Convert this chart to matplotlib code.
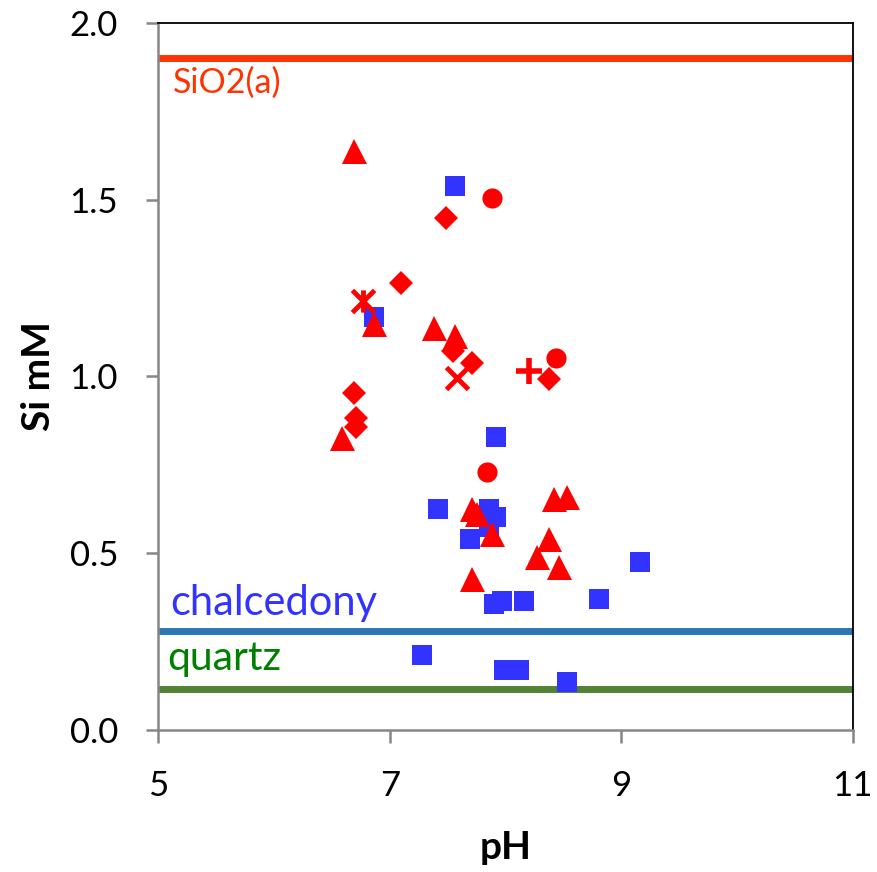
import matplotlib.pyplot as plt
import numpy as np
from matplotlib.path import Path

plt.rcParams['font.family'] = ['Lato', 'DejaVu Sans']

# saturation lines (Si mM)
sio2_level = 1.90
chalcedony_level = 0.28
quartz_level = 0.117

# blue squares
sq_ph = [7.56, 6.86, 7.92, 7.42, 7.86, 7.92, 7.86, 7.69,
         7.90, 7.97, 8.16, 8.81, 9.16, 7.28, 7.99, 8.12, 8.53]
sq_si = [1.538, 1.168, 0.828, 0.625, 0.624, 0.603, 0.575, 0.540,
         0.356, 0.365, 0.365, 0.370, 0.475, 0.212, 0.170, 0.170, 0.136]

# red triangles
tri_ph = [6.69, 6.86, 7.38, 7.56, 6.59, 7.71, 7.75, 7.88,
          8.42, 8.53, 8.38, 8.27, 8.46, 7.71]
tri_si = [1.638, 1.148, 1.137, 1.114, 0.825, 0.625, 0.610, 0.554,
          0.653, 0.660, 0.540, 0.490, 0.461, 0.427]

# red diamonds
dia_ph = [7.49, 7.10, 7.55, 7.71, 8.38, 6.69, 6.71, 6.71]
dia_si = [1.448, 1.264, 1.073, 1.037, 0.993, 0.953, 0.881, 0.858]

# red circles
cir_ph = [7.88, 8.44, 7.84]
cir_si = [1.503, 1.051, 0.730]

# red star, x and plus
star_ph = [6.77]
star_si = [1.213]
x_ph = [7.58]
x_si = [0.994]
plus_ph = [8.20]
plus_si = [1.014]

xticks = [5, 7, 9, 11]
yticks = [0.0, 0.5, 1.0, 1.5, 2.0]

red = '#FF0000'
blue = '#3333FF'

star = Path([(-0.5, -0.5), (0.5, 0.5), (-0.5, 0.5), (0.5, -0.5), (0, -0.5), (0, 0.5)],
            [Path.MOVETO, Path.LINETO, Path.MOVETO, Path.LINETO, Path.MOVETO, Path.LINETO])

fig = plt.figure(figsize=(8.77, 8.72), dpi=100)
ax = fig.add_axes([0.1805, 0.1628, 0.7918, 0.8112])

ax.axhline(sio2_level, color='#FF3300', lw=5, zorder=1)
ax.axhline(chalcedony_level, color='#2E75B6', lw=5, zorder=1)
ax.axhline(quartz_level, color='#548235', lw=5, zorder=1)

ax.text(5.13, 1.801, 'SiO2(a)', color='#FF3300', fontsize=24.5, va='baseline')
ax.text(5.10, 0.325, 'chalcedony', color='#3333FF', fontsize=30, va='baseline')
ax.text(5.08, 0.170, 'quartz', color='#008000', fontsize=29.5, va='baseline')

ax.plot(sq_ph, sq_si, 's', color=blue, ms=14.5, mew=0, zorder=3)
ax.plot(tri_ph, tri_si, '^', color=red, ms=18, mew=0, zorder=4)
ax.plot(dia_ph, dia_si, 'D', color=red, ms=12.5, mew=0, zorder=4)
ax.plot(cir_ph, cir_si, 'o', color=red, ms=14.5, mew=0, zorder=4)
ax.plot(star_ph, star_si, marker=star, ls='none', color=red, ms=16, mew=3.5, zorder=4)
ax.plot(x_ph, x_si, 'x', color=red, ms=16, mew=3.5, zorder=4)
ax.plot(plus_ph, plus_si, '+', color=red, ms=18.5, mew=4, zorder=4)

ax.set_xlim(5, 11)
ax.set_ylim(0, 2.0)
ax.set_xticks(xticks)
ax.set_xticklabels([str(t) for t in xticks])
ax.set_yticks(yticks)
ax.set_yticklabels(['%.1f' % t for t in yticks])

for s in ['left', 'bottom']:
    ax.spines[s].set_color('#868686')
    ax.spines[s].set_linewidth(1.8)
for s in ['top', 'right']:
    ax.spines[s].set_color('black')
    ax.spines[s].set_linewidth(1.3)
ax.tick_params(axis='both', direction='out', length=9, width=1.8, color='#868686',
               labelsize=25)
ax.tick_params(axis='y', pad=20)
ax.tick_params(axis='x', pad=20)

ax.set_xlabel('pH', fontsize=28, fontweight='bold', labelpad=20)
ax.set_ylabel('Si mM', fontsize=28, fontweight='bold', labelpad=10)

fig.savefig('out.png', dpi=100)
